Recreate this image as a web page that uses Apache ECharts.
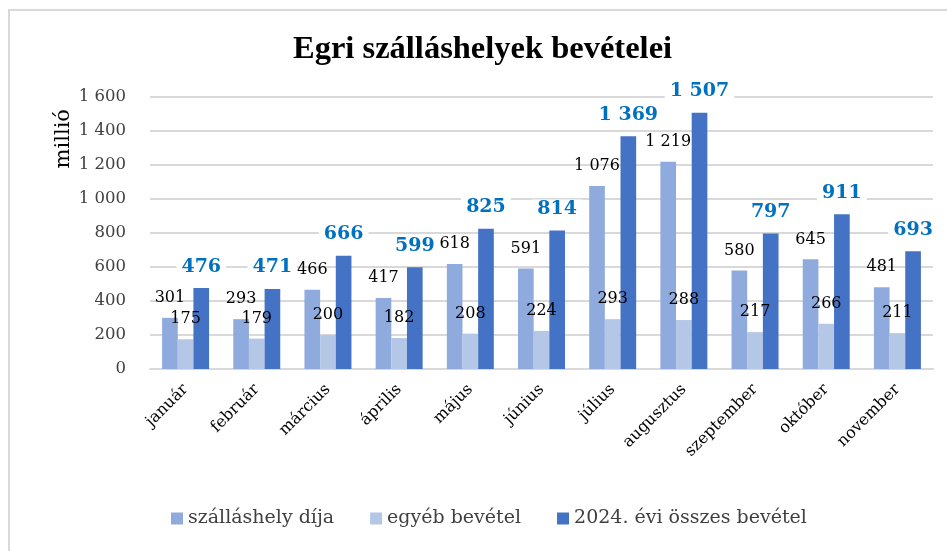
<!DOCTYPE html>
<html>
<head>
<meta charset="utf-8">
<script src="https://cdn.jsdelivr.net/npm/echarts@6/dist/echarts.min.js"></script>
<style>
  html, body { margin: 0; padding: 0; background: #fff; }
  #chart { width: 947px; height: 551px; }
</style>
</head>
<body>
<div id="chart"></div>
<script>
// havi adatok, millió Ft
const months = ['január', 'február', 'március', 'április', 'május', 'június',
  'július', 'augusztus', 'szeptember', 'október', 'november']
const szallasDija = [301, 293, 466, 417, 618, 591, 1076, 1219, 580, 645, 481]
const egyebBevetel = [175, 179, 200, 182, 208, 224, 293, 288, 217, 266, 211]
const osszesBevetel = [476, 471, 666, 599, 825, 814, 1369, 1507, 797, 911, 693]
const yTicks = [0, 200, 400, 600, 800, 1000, 1200, 1400, 1600]

const serif = '"DejaVu Serif", serif'
const narrowSerif = '"Liberation Serif", serif'

// 1 076 formatum
function fmt(v) {
    return String(v).replace(/\B(?=(\d{3})+(?!\d))/g, ' ')
}

const chart = echarts.init(document.getElementById('chart'))

chart.setOption({
    animation: false,
    graphic: [{
        type: 'rect',
        shape: { x: 9, y: 10, width: 960, height: 560 },
        style: { fill: 'none', stroke: '#d9d9d9', lineWidth: 2 },
        silent: true
    }],
    title: {
        text: 'Egri szálláshelyek bevételei',
        left: 288,
        top: 28,
        textStyle: {
            fontFamily: narrowSerif,
            fontWeight: 'bold',
            fontSize: 32.5,
            color: '#000'
        }
    },
    legend: {
        bottom: 18,
        left: 166,
        itemWidth: 12,
        itemHeight: 12,
        itemGap: 36,
        icon: 'rect',
        textStyle: { fontFamily: serif, fontSize: 19, color: '#404040' }
    },
    grid: {
        left: 150,
        right: 14,
        top: 97,
        bottom: 182
    },
    xAxis: {
        type: 'category',
        data: months,
        axisLine: { lineStyle: { color: '#d9d9d9', width: 2 } },
        axisTick: { show: false },
        axisLabel: {
            rotate: 45,
            interval: 0,
            margin: 18,
            fontFamily: serif,
            fontSize: 16,
            color: '#000'
        }
    },
    yAxis: {
        type: 'value',
        min: yTicks[0],
        max: yTicks[yTicks.length - 1],
        interval: 200,
        name: 'millió',
        nameLocation: 'end',
        nameRotate: 90,
        nameGap: 0,
        nameTextStyle: {
            fontFamily: serif,
            fontSize: 21,
            color: '#000',
            align: 'right',
            verticalAlign: 'bottom',
            padding: [0, 12, 76, 0]
        },
        axisLine: { show: false },
        axisTick: { show: false },
        splitLine: { lineStyle: { color: '#d9d9d9', width: 2 } },
        axisLabel: {
            margin: 24,
            fontFamily: serif,
            fontSize: 16.5,
            color: '#404040',
            formatter: fmt
        }
    },
    series: [
        {
            name: 'szálláshely díja',
            type: 'bar',
            data: szallasDija,
            barGap: '0%',
            barCategoryGap: '34%',
            itemStyle: { color: '#8faadc' },
            label: {
                show: true,
                position: 'top',
                distance: 12,
                fontFamily: serif,
                fontSize: 16,
                color: '#000',
                formatter: p => fmt(p.value)
            }
        },
        {
            name: 'egyéb bevétel',
            type: 'bar',
            data: egyebBevetel,
            itemStyle: { color: '#b4c7e7' },
            label: {
                show: true,
                position: 'top',
                distance: 12,
                fontFamily: serif,
                fontSize: 16,
                color: '#000',
                formatter: p => fmt(p.value)
            }
        },
        {
            name: '2024. évi összes bevétel',
            type: 'bar',
            data: osszesBevetel,
            itemStyle: { color: '#4472c4' },
            label: {
                show: true,
                position: 'top',
                distance: 12,
                fontFamily: serif,
                fontSize: 19,
                fontWeight: 'bold',
                color: '#0070c0',
                backgroundColor: '#fff',
                padding: [0, 5],
                formatter: p => fmt(p.value)
            }
        }
    ]
})
</script>
</body>
</html>
